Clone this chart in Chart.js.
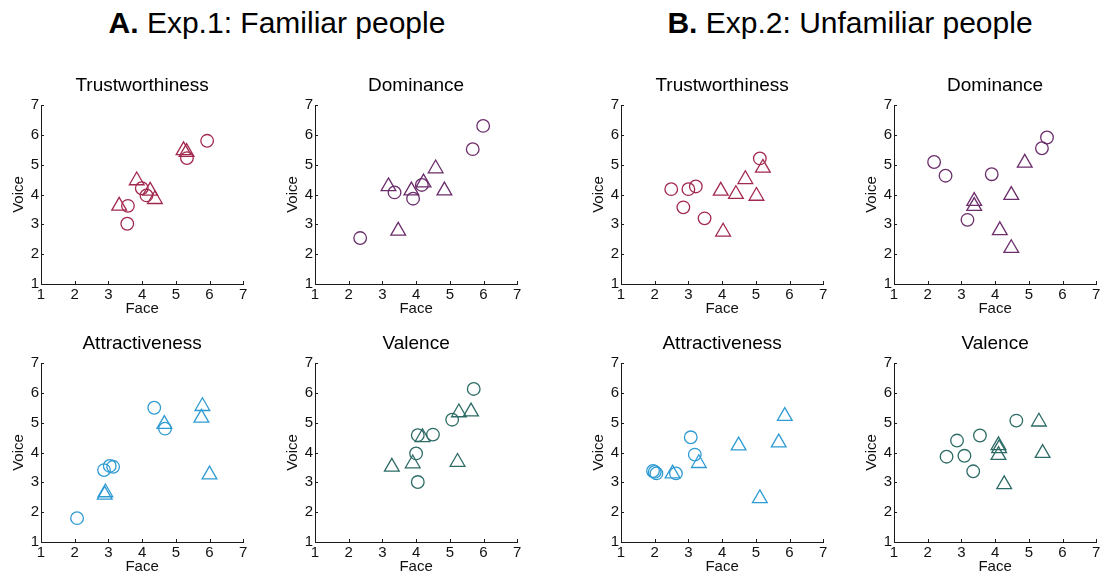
<!DOCTYPE html>
<html>
<head>
<meta charset="utf-8">
<script src="https://cdn.jsdelivr.net/npm/chart.js@4/dist/chart.umd.min.js"></script>
<style>
  html, body { margin: 0; padding: 0; background: #fff; }
  #page { position: relative; width: 1107px; height: 578px; overflow: hidden; }
  .head {
    position: absolute; top: 8px; width: 500px; text-align: center;
    font: 30px/30px "Liberation Sans", Arial, sans-serif; color: #000; white-space: nowrap;
  }
  canvas { position: absolute; }
</style>
</head>
<body>
<div id="page">
  <div class="head" style="left:27px"><b>A.</b> Exp.1: Familiar people</div>
  <div class="head" style="left:600px"><b>B.</b> Exp.2: Unfamiliar people</div>
</div>
<script>
"use strict";

// rating scale ticks (1..7) for both axes
const scaleTicks = [1, 2, 3, 4, 5, 6, 7];
const traitNames = ["Trustworthiness", "Dominance", "Attractiveness", "Valence"];

// each point is [face rating, voice rating]
// Exp.1 (familiar people)
const aTrustCirc = [[5.93, 5.80], [5.33, 5.22], [3.58, 3.62], [3.56, 3.02], [3.99, 4.21], [4.13, 3.97]];
const aTrustTri = [[3.32, 3.62], [3.84, 4.47], [4.24, 4.12], [4.38, 3.84], [5.23, 5.48], [5.32, 5.42]];
const aDomCirc = [[5.99, 6.30], [5.68, 5.52], [2.34, 2.54], [3.36, 4.07], [3.91, 3.86], [4.17, 4.32]];
const aDomTri = [[3.18, 4.27], [3.47, 2.78], [3.86, 4.13], [4.22, 4.40], [4.58, 4.87], [4.84, 4.13]];
const aAttrCirc = [[2.07, 1.80], [2.87, 3.41], [3.04, 3.55], [3.14, 3.52], [4.36, 5.50], [4.68, 4.80]];
const aAttrTri = [[2.89, 2.58], [2.91, 2.66], [4.66, 4.95], [5.79, 5.55], [5.76, 5.16], [6.00, 3.26]];
const aValCirc = [[5.71, 6.13], [5.07, 5.10], [4.50, 4.60], [4.05, 4.58], [4.00, 3.97], [4.05, 3.01]];
const aValTri = [[3.28, 3.52], [3.90, 3.63], [4.19, 4.51], [5.23, 3.68], [5.27, 5.34], [5.63, 5.37]];

// Exp.2 (unfamiliar people)
const bTrustCirc = [[2.49, 4.18], [2.85, 3.57], [3.00, 4.18], [3.22, 4.27], [3.48, 3.20], [5.12, 5.21]];
const bTrustTri = [[3.96, 4.12], [4.03, 2.75], [4.41, 4.01], [4.69, 4.51], [5.02, 3.95], [5.21, 4.89]];
const bDomCirc = [[2.19, 5.09], [2.53, 4.63], [3.18, 3.15], [3.90, 4.68], [5.39, 5.55], [5.54, 5.91]];
const bDomTri = [[3.38, 3.78], [3.38, 3.61], [4.14, 2.80], [4.48, 2.20], [4.48, 3.98], [4.88, 5.06]];
const bAttrCirc = [[1.95, 3.38], [2.00, 3.35], [2.05, 3.30], [2.63, 3.30], [3.07, 4.51], [3.19, 3.93]];
const bAttrTri = [[2.53, 3.29], [3.31, 3.64], [4.49, 4.23], [5.12, 2.46], [5.68, 4.33], [5.86, 5.22]];
const bValCirc = [[2.56, 3.86], [2.87, 4.40], [3.09, 3.89], [3.35, 3.37], [3.55, 4.57], [4.63, 5.07]];
const bValTri = [[4.10, 4.24], [4.12, 4.14], [4.10, 3.91], [4.27, 2.93], [5.30, 5.03], [5.41, 3.98]];

const traitColors = ["#a2294e", "#6b2d6b", "#2f9bd3", "#2d6b66"];
const axisColor = "#1a1a1a";
const fontFamily = '"Liberation Sans", Arial, sans-serif';

Chart.defaults.font.family = fontFamily;
Chart.defaults.color = "#111";

// plot box of every panel: left edge (x=1), top edge (y=7)
const plotW = 207, plotH = 179;
const panels = [
    { t: 0, left: 41, top: 105, circ: aTrustCirc, tri: aTrustTri },
    { t: 1, left: 315, top: 105, circ: aDomCirc, tri: aDomTri },
    { t: 0, left: 621, top: 105, circ: bTrustCirc, tri: bTrustTri },
    { t: 1, left: 894, top: 105, circ: bDomCirc, tri: bDomTri },
    { t: 2, left: 41, top: 363, circ: aAttrCirc, tri: aAttrTri },
    { t: 3, left: 315, top: 363, circ: aValCirc, tri: aValTri },
    { t: 2, left: 621, top: 363, circ: bAttrCirc, tri: bAttrTri },
    { t: 3, left: 894, top: 363, circ: bValCirc, tri: bValTri }
];

// small tick marks pointing into the plot
const innerTicks = {
    id: "innerTicks",
    afterDraw(chart) {
        const { ctx, chartArea, scales } = chart;
        ctx.save();
        ctx.strokeStyle = axisColor;
        ctx.lineWidth = 1;
        ctx.beginPath();
        scales.x.ticks.forEach(t => {
            const px = Math.round(scales.x.getPixelForValue(t.value)) + 0.5;
            ctx.moveTo(px, chartArea.bottom);
            ctx.lineTo(px, chartArea.bottom - 3);
        });
        scales.y.ticks.forEach(t => {
            const py = Math.round(scales.y.getPixelForValue(t.value)) + 0.5;
            ctx.moveTo(chartArea.left, py);
            ctx.lineTo(chartArea.left + 3, py);
        });
        ctx.stroke();
        ctx.restore();
    }
};

const toXY = pts => pts.map(p => ({ x: p[0], y: p[1] }));

const leftBox = 40, topBox = 40, bottomBox = 35, rightPad = 5;
const page = document.getElementById("page");

panels.forEach(p => {
    const color = traitColors[p.t];
    const cv = document.createElement("canvas");
    cv.width = leftBox + plotW + rightPad;
    cv.height = topBox + plotH + bottomBox;
    page.append(cv);

    const chart = new Chart(cv, {
        type: "scatter",
        data: {
            datasets: [{
                data: toXY(p.circ),
                pointStyle: "circle",
                pointRadius: 6.3,
                borderColor: color,
                backgroundColor: "rgba(0,0,0,0)",
                borderWidth: 1.3,
                clip: false
            }, {
                data: toXY(p.tri),
                pointStyle: "triangle",
                pointRadius: 8.5,
                borderColor: color,
                backgroundColor: "rgba(0,0,0,0)",
                borderWidth: 1.3,
                clip: false
            }]
        },
        options: {
            responsive: false,
            animation: false,
            events: [],
            layout: { padding: { left: 0, right: rightPad, top: 0, bottom: 0 } },
            plugins: {
                legend: { display: false },
                tooltip: { enabled: false },
                title: {
                    display: true,
                    text: traitNames[p.t],
                    fullSize: false,
                    color: "#000",
                    font: { size: 19, weight: "normal", lineHeight: 1.2 },
                    padding: { top: 9.6, bottom: 7.6 }
                }
            },
            scales: {
                x: {
                    type: "linear",
                    min: scaleTicks[0],
                    max: scaleTicks[scaleTicks.length - 1],
                    afterBuildTicks: s => { s.ticks = scaleTicks.map(v => ({ value: v })); },
                    afterFit: s => { s.height = bottomBox; },
                    grid: { display: false, drawTicks: false },
                    border: { display: true, color: axisColor, width: 1 },
                    ticks: { padding: 2, maxRotation: 0, font: { size: 15 }, color: "#111" },
                    title: { display: true, text: "Face", color: "#111", font: { size: 15 }, padding: { top: 0, bottom: 1 } }
                },
                y: {
                    type: "linear",
                    min: scaleTicks[0],
                    max: scaleTicks[scaleTicks.length - 1],
                    afterBuildTicks: s => { s.ticks = scaleTicks.map(v => ({ value: v })); },
                    afterFit: s => { s.width = leftBox; },
                    grid: { display: false, drawTicks: false },
                    border: { display: true, color: axisColor, width: 1 },
                    ticks: { padding: 2, font: { size: 15 }, color: "#111" },
                    title: { display: true, text: "Voice", color: "#111", font: { size: 15 }, padding: { top: 9, bottom: 0 } }
                }
            }
        },
        plugins: [innerTicks]
    });

    // grow the canvas until the plot box has the wanted size, then place it
    for (let i = 0; i < 3; i++) {
        const ca = chart.chartArea;
        const dw = plotW - (ca.right - ca.left);
        const dh = plotH - (ca.bottom - ca.top);
        if (Math.abs(dw) < 0.5 && Math.abs(dh) < 0.5) break;
        chart.resize(chart.width + dw, chart.height + dh);
    }
    const ca = chart.chartArea;
    cv.style.left = (p.left - ca.left) + "px";
    cv.style.top = (p.top - ca.top) + "px";
});
</script>
</body>
</html>
